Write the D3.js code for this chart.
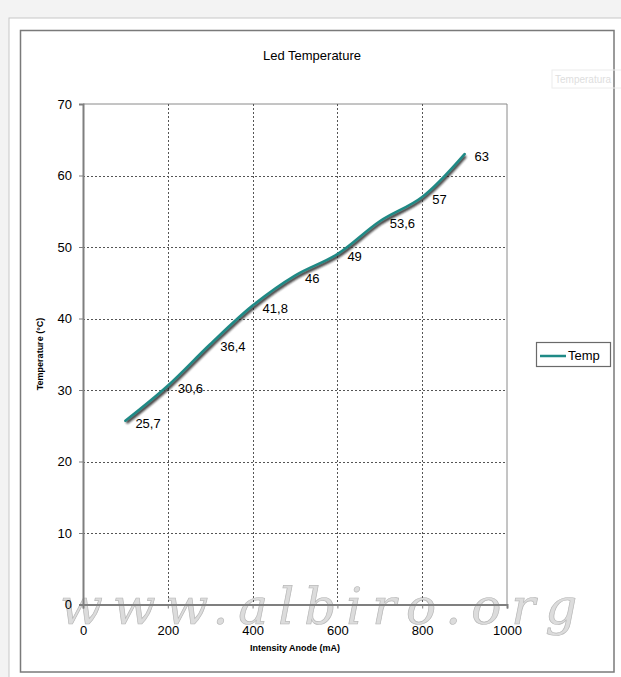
<!DOCTYPE html>
<html>
<head>
<meta charset="utf-8">
<script src="https://cdn.jsdelivr.net/npm/d3@7/dist/d3.min.js"></script>
<style>
  html, body { margin: 0; padding: 0; background: #f3f3f3; }
  svg { display: block; font-family: Arial, "Liberation Sans", sans-serif; }
</style>
</head>
<body>
<svg id="chart" width="621" height="677"></svg>
<script>
// Anode current (mA) vs LED temperature (°C)
const current = [100, 200, 300, 400, 500, 600, 700, 800, 900];
const temperature = [25.7, 30.6, 36.4, 41.8, 46, 49, 53.6, 57, 63];
const valueLabels = ["25,7", "30,6", "36,4", "41,8", "46", "49", "53,6", "57", "63"];
const xTicks = [0, 200, 400, 600, 800, 1000];
const yTicks = [0, 10, 20, 30, 40, 50, 60, 70];
const seriesName = "Temp";

const svg = d3.select("#chart");

// page and chart frames
svg.append("rect").attr("x", 9).attr("y", 18).attr("width", 620).attr("height", 670)
  .attr("fill", "#ffffff").attr("stroke", "#c8c8c8").attr("stroke-width", 1);
svg.append("rect").attr("x", 20.5).attr("y", 30.5).attr("width", 593.5).attr("height", 641.5)
  .attr("fill", "#ffffff").attr("stroke", "#7a7a7a").attr("stroke-width", 1.5);

// faint floating caption box at the top right
svg.append("rect").attr("x", 552).attr("y", 70).attr("width", 80).attr("height", 18)
  .attr("fill", "none").attr("stroke", "#ececec");
svg.append("text").attr("x", 555).attr("y", 83).attr("font-size", 10)
  .attr("fill", "#dedede").text("Temperatura");

const plot = { left: 83, right: 507, top: 104, bottom: 604.5 };
const x = d3.scaleLinear().domain([0, 1000]).range([plot.left, plot.right]);
const y = d3.scaleLinear().domain([0, 70]).range([plot.bottom, plot.top]);

// site watermark across the bottom (behind the axis)
svg.append("text").attr("x", 60).attr("y", 624)
  .attr("font-family", "'DejaVu Serif', serif").attr("font-style", "italic")
  .attr("font-size", 50).attr("letter-spacing", 10)
  .attr("fill", "#dcdcdc")
  .attr("stroke", "#b8b8b8").attr("stroke-width", 0.7)
  .text("www.albiro.org");

// title
svg.append("text").attr("x", 312).attr("y", 60).attr("text-anchor", "middle")
  .attr("font-size", 13).attr("fill", "#000").text("Led Temperature");

// plot border (top and right)
svg.append("path")
  .attr("d", `M${plot.left},${plot.top}H${plot.right}V${plot.bottom}`)
  .attr("fill", "none").attr("stroke", "#8a8a8a").attr("stroke-width", 1);

// dotted gridlines
const grid = svg.append("g").attr("stroke", "#555").attr("stroke-width", 1)
  .attr("stroke-dasharray", "2,2");
grid.selectAll("line.v").data(xTicks.filter(d => d > 0 && d < 1000)).join("line")
  .attr("x1", d => Math.round(x(d)) + 0.5).attr("x2", d => Math.round(x(d)) + 0.5)
  .attr("y1", plot.top).attr("y2", plot.bottom);
grid.selectAll("line.h").data(yTicks.filter(d => d > 0 && d < 70)).join("line")
  .attr("x1", plot.left).attr("x2", plot.right)
  .attr("y1", d => Math.round(y(d)) + 0.5).attr("y2", d => Math.round(y(d)) + 0.5);

// axes
const xAxis = svg.append("g").attr("transform", `translate(0,${plot.bottom})`)
  .call(d3.axisBottom(x).tickValues(xTicks).tickFormat(d3.format("d")).tickSize(4).tickPadding(17));
const yAxis = svg.append("g").attr("transform", `translate(${plot.left},0)`)
  .call(d3.axisLeft(y).tickValues(yTicks).tickFormat(d3.format("d")).tickSize(4).tickPadding(7));
[xAxis, yAxis].forEach(a => {
  a.select(".domain").attr("stroke", "#7f7f7f").attr("stroke-width", 2);
  a.selectAll(".tick line").attr("stroke", "#7f7f7f");
  a.selectAll(".tick text").attr("font-size", 13).attr("fill", "#000")
    .attr("font-family", "Arial, 'Liberation Sans', sans-serif");
});

// axis titles
svg.append("text").attr("x", 295).attr("y", 651).attr("text-anchor", "middle")
  .attr("font-size", 9).attr("font-weight", "bold").attr("fill", "#000")
  .text("Intensity Anode (mA)");
svg.append("text").attr("transform", "translate(43,354) rotate(-90)")
  .attr("text-anchor", "middle").attr("font-size", 9).attr("font-weight", "bold")
  .attr("fill", "#000").text("Temperature (°C)");

// smoothed series line with a soft shadow
const defs = svg.append("defs");
defs.append("filter").attr("id", "soft").attr("x", "-10%").attr("y", "-10%")
  .attr("width", "120%").attr("height", "120%")
  .append("feGaussianBlur").attr("stdDeviation", 0.8);

const pts = current.map((c, i) => [c, temperature[i]]);
const line = d3.line().x(d => x(d[0])).y(d => y(d[1])).curve(d3.curveCatmullRom.alpha(0.5));
svg.append("path").attr("d", line(pts)).attr("fill", "none")
  .attr("stroke", "#1a1a1a").attr("stroke-width", 3.2).attr("opacity", 0.85)
  .attr("transform", "translate(1,2)").attr("filter", "url(#soft)");
svg.append("path").attr("d", line(pts)).attr("fill", "none")
  .attr("stroke", "#1f8a86").attr("stroke-width", 2.6).attr("stroke-linecap", "round");

// value labels
svg.append("g").selectAll("text").data(pts).join("text")
  .attr("x", d => x(d[0]) + 10).attr("y", d => y(d[1]) + 7)
  .attr("font-size", 13).attr("fill", "#000")
  .text((d, i) => valueLabels[i]);

// legend
const lg = svg.append("g");
lg.append("rect").attr("x", 536.5).attr("y", 342.5).attr("width", 74).attr("height", 24)
  .attr("fill", "#fff").attr("stroke", "#6a6a6a").attr("stroke-width", 1.2);
lg.append("line").attr("x1", 540).attr("x2", 566).attr("y1", 356).attr("y2", 356)
  .attr("stroke", "#1f8a86").attr("stroke-width", 2.5);
lg.append("text").attr("x", 568).attr("y", 360).attr("font-size", 13)
  .attr("fill", "#000").text(seriesName);
</script>
</body>
</html>
